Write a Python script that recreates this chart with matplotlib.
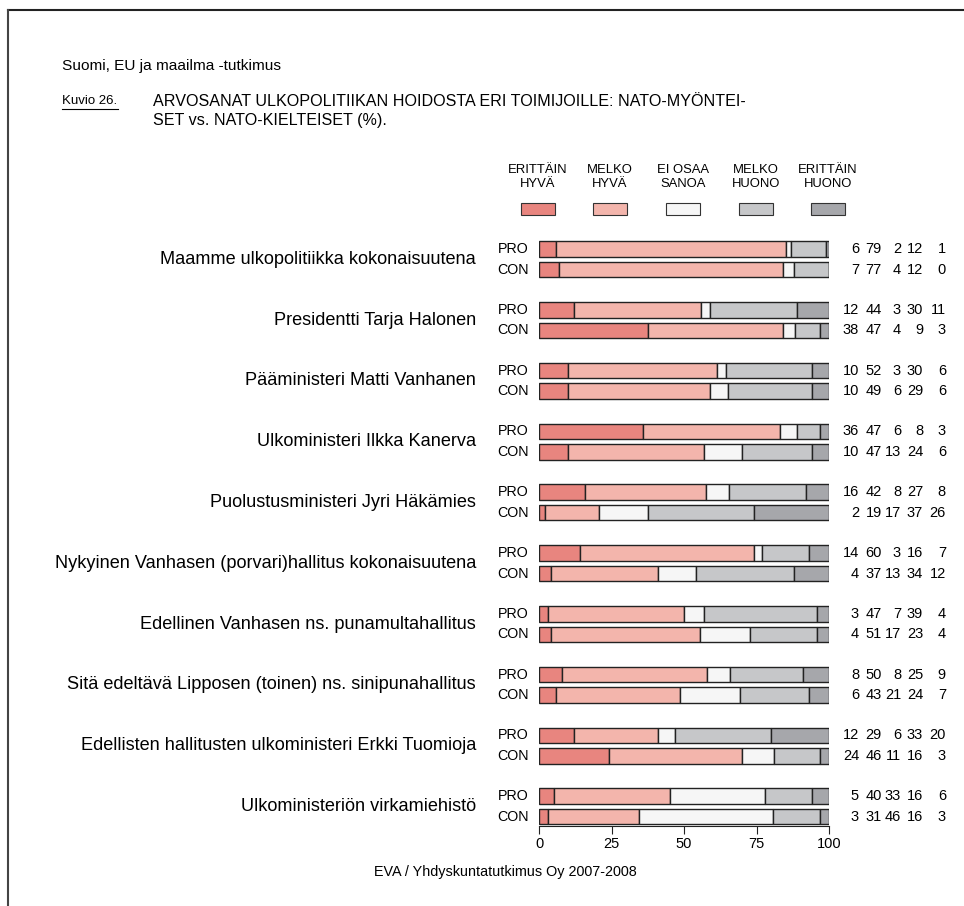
import numpy as np
import matplotlib.pyplot as plt
from matplotlib.lines import Line2D
from matplotlib.patches import Rectangle
from matplotlib.transforms import blended_transform_factory

plt.rcParams['font.family'] = ['Liberation Sans', 'DejaVu Sans']

# toimijat (kategoriat)
actors = [
    "Maamme ulkopolitiikka kokonaisuutena",
    "Presidentti Tarja Halonen",
    "Pääministeri Matti Vanhanen",
    "Ulkoministeri Ilkka Kanerva",
    "Puolustusministeri Jyri Häkämies",
    "Nykyinen Vanhasen (porvari)hallitus kokonaisuutena",
    "Edellinen Vanhasen ns. punamultahallitus",
    "Sitä edeltävä Lipposen (toinen) ns. sinipunahallitus",
    "Edellisten hallitusten ulkoministeri Erkki Tuomioja",
    "Ulkoministeriön virkamiehistö",
]

# NATO-myönteiset (PRO): erittäin hyvä, melko hyvä, eos, melko huono, erittäin huono
pro = [
    [6, 79, 2, 12, 1],
    [12, 44, 3, 30, 11],
    [10, 52, 3, 30, 6],
    [36, 47, 6, 8, 3],
    [16, 42, 8, 27, 8],
    [14, 60, 3, 16, 7],
    [3, 47, 7, 39, 4],
    [8, 50, 8, 25, 9],
    [12, 29, 6, 33, 20],
    [5, 40, 33, 16, 6],
]

# NATO-kielteiset (CON)
con = [
    [7, 77, 4, 12, 0],
    [38, 47, 4, 9, 3],
    [10, 49, 6, 29, 6],
    [10, 47, 13, 24, 6],
    [2, 19, 17, 37, 26],
    [4, 37, 13, 34, 12],
    [4, 51, 17, 23, 4],
    [6, 43, 21, 24, 7],
    [24, 46, 11, 16, 3],
    [3, 31, 46, 16, 3],
]

legend_labels = ["ERITTÄIN\nHYVÄ", "MELKO\nHYVÄ", "EI OSAA\nSANOA", "MELKO\nHUONO", "ERITTÄIN\nHUONO"]
colors = ["#e8857f", "#f3b5ac", "#f6f6f6", "#c6c7c9", "#a6a7ab"]
ticks = [0, 25, 50, 75, 100]

W, H = 964, 906
fig = plt.figure(figsize=(W / 100, H / 100), dpi=100)


def fx(px):
    return px / W


def fy(py):
    return 1 - py / H


# kehys
fig.add_artist(Line2D([fx(8), 1], [fy(10), fy(10)], color="#222222", lw=1.5))
fig.add_artist(Line2D([fx(8), fx(8)], [fy(10), 0], color="#444444", lw=1.5))

# otsikot
fig.text(fx(62), fy(66), "Suomi, EU ja maailma -tutkimus", fontsize=11.1, va="center")
fig.text(fx(62), fy(101), "Kuvio 26.", fontsize=9.5, va="center")
fig.add_artist(Line2D([fx(62), fx(118)], [fy(109), fy(109)], color="black", lw=0.8))
fig.text(fx(153), fy(101), "ARVOSANAT ULKOPOLITIIKAN HOIDOSTA ERI TOIMIJOILLE: NATO-MYÖNTEI-",
         fontsize=11.6, va="center")
fig.text(fx(153), fy(121), "SET vs. NATO-KIELTEISET (%).", fontsize=11.6, va="center")
fig.text(fx(505), fy(872), "EVA / Yhdyskuntatutkimus Oy 2007-2008", fontsize=10.4,
         ha="center", va="center")

# selite
leg_x = [538, 610, 683, 756, 828]
for lx, lab, c in zip(leg_x, legend_labels, colors):
    fig.text(fx(lx), fy(177), lab, fontsize=9.4, ha="center", va="center", linespacing=1.3)
    fig.add_artist(Rectangle((fx(lx - 17), fy(215)), fx(34), 12 / H, facecolor=c,
                             edgecolor="#333333", lw=0.8, transform=fig.transFigure))

# kuvaaja
ax = fig.add_axes([fx(539), fy(826), fx(290), (826 - 230) / H])
unit = 60.8 / 3
ax.set_ylim((826 - 249) / unit, -(249 - 230) / unit)
ax.set_xlim(0, 100)
trans = blended_transform_factory(fig.transFigure, ax.transData)

bar_h = 15.5 / unit
row_off = 20.5 / unit
col_x = [859, 882, 901, 923, 946]
for i, name in enumerate(actors):
    y0 = i * 3
    for y, vals, tag in [(y0, pro[i], "PRO"), (y0 + row_off, con[i], "CON")]:
        v = np.array(vals, dtype=float)
        v = v / v.sum() * 100
        left = np.concatenate([[0], np.cumsum(v)[:-1]])
        ax.barh([y] * 5, v, left=left, height=bar_h, color=colors,
                edgecolor="#222222", linewidth=1.0)
        ax.text(fx(529), y, tag, fontsize=10.3, ha="right", va="center", transform=trans)
        for cx, n in zip(col_x, vals):
            ax.text(fx(cx), y, str(n), fontsize=10.5, ha="right", va="center", transform=trans)
    ax.text(fx(476), y0 + row_off / 2, name, fontsize=13.1, ha="right", va="center",
            transform=trans)

for s in ["top", "right", "left"]:
    ax.spines[s].set_visible(False)
ax.spines["bottom"].set_color("#222222")
ax.set_yticks([])
ax.set_xticks(ticks)
ax.tick_params(axis="x", length=6, labelsize=10.5, color="#222222", pad=2)

fig.savefig("out.png", dpi=100)
